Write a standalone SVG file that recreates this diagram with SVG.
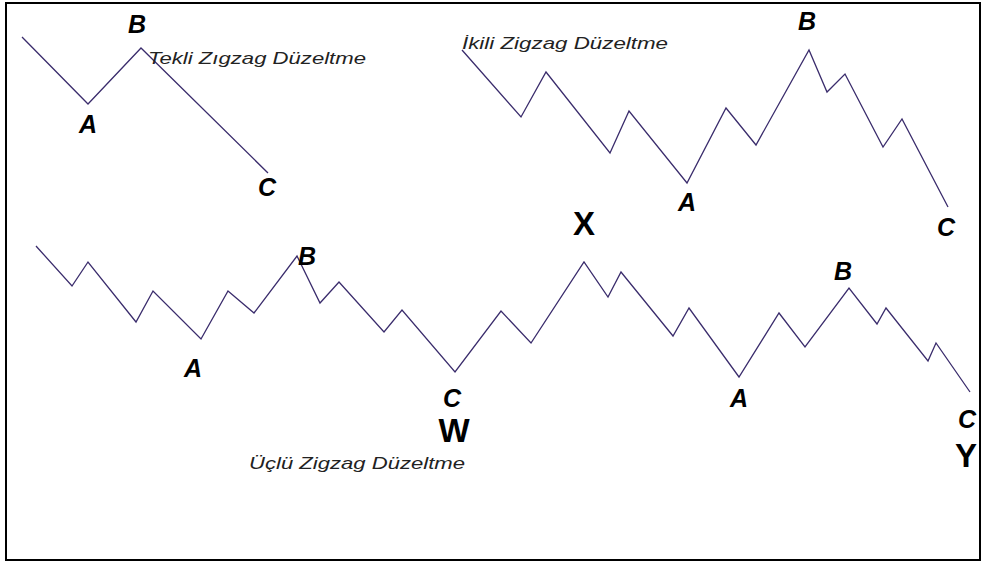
<svg xmlns="http://www.w3.org/2000/svg" width="986" height="563" viewBox="0 0 986 563">
<style>
.wave{fill:none;stroke:#3a2c6c;stroke-width:1.3;stroke-linejoin:miter}
.lbl{font-family:"Liberation Sans",Arial,sans-serif;font-size:25px;font-weight:bold;font-style:italic;fill:#000;text-anchor:middle}
.big{font-family:"Liberation Sans",Arial,sans-serif;font-size:33px;font-weight:bold;fill:#000;text-anchor:middle}
.title{font-family:"Liberation Sans",Arial,sans-serif;font-size:17px;font-style:italic;fill:#222}
</style>
<rect x="0" y="0" width="986" height="563" fill="#fff"/>
<rect x="6" y="3" width="974" height="557" fill="none" stroke="#000" stroke-width="2"/>
<g id="connectors">
<polyline class="wave" points="22,37 88,104 141,48 268,173"/>
<polyline class="wave" points="462,50 521,117 546,72 610,153 629,111 687,183 726,108 756,145 809,50 827,92 845,74 883,147 902,119 948,207"/>
<polyline class="wave" points="36,246 72,286 88,262 136,322 153,291 201,339 228,291 254,313 297,256 320,303 339,282 384,332 402,310 455,372 501,311 531,343 584,262 608,297 621,272 673,336 689,308 739,377 779,313 805,347 849,288 877,324 886,308 928,361 936,343 970,392"/>
</g>
<g id="single-zigzag">
<text class="title" x="148" y="64" textLength="218" lengthAdjust="spacingAndGlyphs">Tekli Zıgzag Düzeltme</text>
<text class="lbl" x="137" y="33">B</text>
<text class="lbl" x="88" y="133">A</text>
<text class="lbl" x="267" y="196">C</text>
</g>
<g id="double-zigzag">
<text class="title" x="462" y="49" textLength="206" lengthAdjust="spacingAndGlyphs">İkili Zigzag Düzeltme</text>
<text class="lbl" x="807" y="30">B</text>
<text class="lbl" x="687" y="211">A</text>
<text class="lbl" x="946" y="236">C</text>
<text class="big" x="584" y="235">X</text>
</g>
<g id="triple-zigzag">
<text class="title" x="249" y="469" textLength="216" lengthAdjust="spacingAndGlyphs">Üçlü Zigzag Düzeltme</text>
<text class="lbl" x="193" y="377">A</text>
<text class="lbl" x="307" y="265">B</text>
<text class="lbl" x="452" y="407">C</text>
<text class="big" x="454" y="442">W</text>
<text class="lbl" x="739" y="407">A</text>
<text class="lbl" x="843" y="280">B</text>
<text class="lbl" x="967" y="428">C</text>
<text class="big" x="966" y="467">Y</text>
</g>
</svg>
